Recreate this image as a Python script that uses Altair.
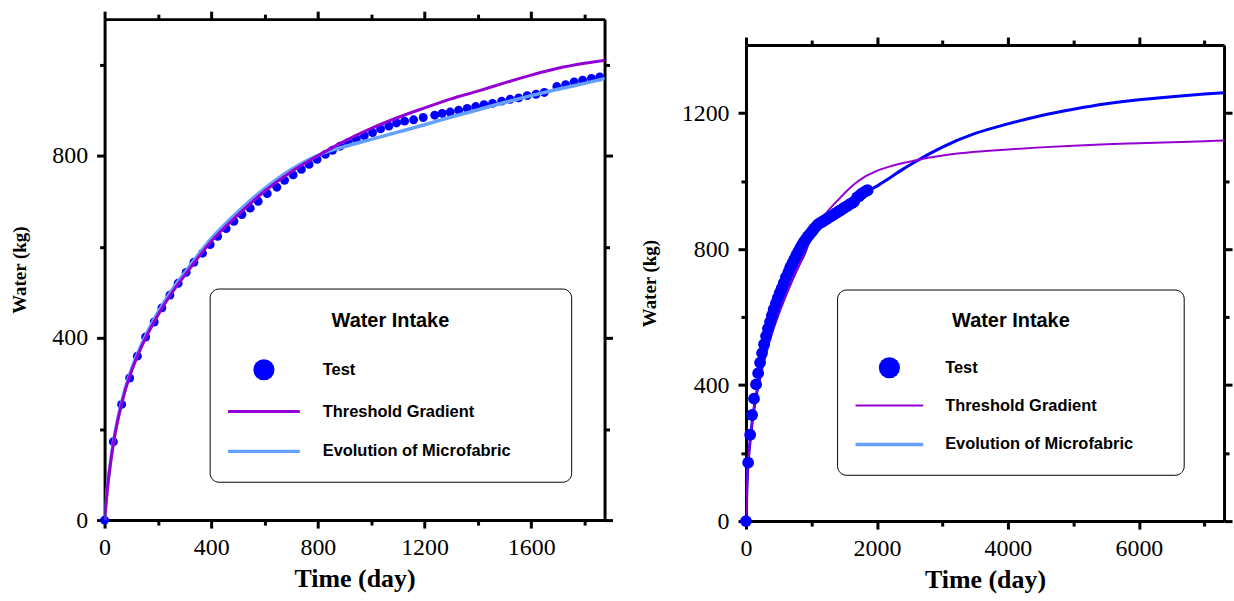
import altair as alt
import pandas as pd

# ---------------- data ----------------
test_day = [0, 33, 64, 94, 123, 154, 186, 215, 245, 276, 306, 335, 367, 396, 424, 456,
            485, 515, 546, 576, 610, 646, 675, 707, 738, 767, 797, 828, 855, 883, 914,
            944, 974, 1005, 1035, 1066, 1095, 1125, 1159, 1195, 1238, 1266, 1296, 1328,
            1360, 1392, 1423, 1455, 1489, 1521, 1553, 1585, 1618, 1649, 1696, 1729, 1761,
            1793, 1826, 1857]
test_water = [0, 172, 254, 312, 360, 402, 435, 466, 494, 520, 544, 566, 586, 605, 623, 640,
              656, 671, 685, 700, 717, 731, 746, 758, 770, 781, 792, 803, 812, 821, 829,
              837, 844, 851, 859, 865, 872, 876, 879, 884, 889, 893, 896, 900, 904, 908,
              912, 915, 920, 924, 927, 932, 935, 939, 952, 956, 962, 966, 970, 973]

# left panel model curves
tg_left_day = [0, 10, 20, 35, 50, 75, 100, 150, 200, 250, 300, 400, 500, 600, 700, 800,
               900, 1000, 1100, 1200, 1300, 1400, 1500, 1600, 1700, 1800, 1880]
tg_left_water = [0, 65, 115, 175, 220, 280, 325, 395, 450, 497, 537, 612, 670, 722, 765, 800,
                 832, 860, 884, 905, 925, 942, 960, 977, 992, 1003, 1010]
em_left_day = [0, 10, 20, 35, 50, 75, 100, 150, 200, 250, 300, 400, 500, 600, 700, 820,
               900, 1000, 1100, 1200, 1300, 1400, 1500, 1600, 1700, 1800, 1880]
em_left_water = [0, 68, 118, 178, 224, 284, 330, 400, 456, 503, 543, 618, 677, 728, 770, 806,
                 820, 836, 852, 868, 885, 901, 917, 932, 946, 959, 970]

# right panel model curves
tg_right_day = [0, 25, 50, 100, 150, 200, 300, 400, 500, 600, 700, 800, 900, 1000, 1100,
                1200, 1400, 1600, 1700, 1800, 1900, 2000, 2200, 2400, 2600, 2800, 3000,
                3500, 4000, 4500, 5000, 5500, 6000, 6500, 7000, 7300]
tg_right_water = [0, 150, 210, 300, 362, 413, 492, 558, 613, 662, 708, 750, 792, 830, 860,
                  898, 943, 982, 998, 1011, 1021, 1030, 1043, 1053, 1061, 1069, 1075,
                  1086, 1093, 1099, 1104, 1108, 1111, 1114, 1117, 1119]
em_right_day = [0, 25, 50, 100, 150, 200, 300, 400, 500, 600, 700, 800, 900, 1000, 1200,
                1400, 1600, 1800, 1870, 2000, 2200, 2400, 2600, 2800, 3000, 3500, 4000,
                4500, 5000, 5500, 6000, 6500, 7000, 7300]
em_right_water = [0, 150, 210, 300, 362, 413, 492, 558, 613, 662, 708, 750, 790, 845, 884,
                  907, 930, 960, 971, 985, 1010, 1035, 1058, 1080, 1100, 1140, 1168,
                  1192, 1211, 1227, 1239, 1248, 1256, 1260]

legend_title = "Water Intake"
legend_labels = ["Test", "Threshold Gradient", "Evolution of Microfabric"]

left_x_ticks = [0, 200, 400, 600, 800, 1000, 1200, 1400, 1600, 1800]
left_y_ticks = [0, 200, 400, 600, 800, 1000]
right_x_ticks = [0, 1000, 2000, 3000, 4000, 5000, 6000, 7000]
right_y_ticks = [0, 200, 400, 600, 800, 1000, 1200]

BLUE = "#0000ff"
PURPLE = "#9400d3"
LIGHT = "#64a0ff"

SERIF = "Liberation Serif"
SANS = "Liberation Sans"


def tsize(m):
    return {"condition": {"test": f"datum.value % {m} === 0", "value": 8}, "value": 5}


def panel(width, height, xdom, ydom, xt, yt, xm, ym, lines, pt_size, lines_on_top, lg):
    xs = alt.Scale(domain=xdom, nice=False, zero=False)
    ys = alt.Scale(domain=ydom, nice=False, zero=False)
    ax_b = alt.Axis(orient="bottom", values=xt, format="d", labelOverlap=False,
                    labelExpr=f"datum.value % {xm} === 0 ? datum.label : ''",
                    tickSize=tsize(xm), labelPadding=8, title="Time (day)",
                    titleFontSize=26, titlePadding=6, labelFlush=False)
    ax_l = alt.Axis(orient="left", values=yt, format="d", labelOverlap=False,
                    labelExpr=f"datum.value % {ym} === 0 ? datum.label : ''",
                    tickSize=tsize(ym), labelPadding=9, title="Water (kg)",
                    titleFontSize=19, titlePadding=22, labelFlush=False)
    ax_t = alt.Axis(orient="top", values=xt, labels=False, title=None, tickSize=tsize(xm))
    ax_r = alt.Axis(orient="right", values=yt, labels=False, title=None, tickSize=tsize(ym))

    tdf = pd.DataFrame({"day": test_day, "water": test_water})
    pts = alt.Chart(tdf).mark_circle(size=pt_size, color=BLUE, opacity=1).encode(
        x=alt.X("day:Q", scale=xs, axis=ax_b),
        y=alt.Y("water:Q", scale=ys, axis=ax_l),
    )
    line_layers = []
    for i, (dd, ww, col, sw) in enumerate(lines):
        df = pd.DataFrame({"day": dd, "water": ww})
        line_layers.append(
            alt.Chart(df).mark_line(color=col, strokeWidth=sw, clip=True,
                                    interpolate="monotone").encode(
                x=alt.X("day:Q", scale=xs, axis=ax_t if i == 0 else None),
                y=alt.Y("water:Q", scale=ys, axis=ax_r if i == 0 else None),
            )
        )
    one = pd.DataFrame({"k": [0]})
    box = alt.Chart(one).mark_rect(cornerRadius=9, fill="white", stroke="black",
                                   strokeWidth=1).encode(
        x=alt.value(lg["bx"][0]), x2=alt.value(lg["bx"][1]),
        y=alt.value(lg["by"][0]), y2=alt.value(lg["by"][1]))
    title = alt.Chart(pd.DataFrame({"t": [legend_title]})).mark_text(
        font=SANS, fontWeight="bold", fontSize=20, align="center", baseline="middle",
        color="black").encode(text="t:N", x=alt.value(lg["tx"]), y=alt.value(lg["ty"]))
    circ = alt.Chart(one).mark_circle(size=450, color=BLUE, opacity=1).encode(
        x=alt.value(lg["cx"]), y=alt.value(lg["rows"][0]))
    l1 = alt.Chart(one).mark_rule(color=PURPLE, strokeWidth=lg["w1"]).encode(
        x=alt.value(lg["lx"][0]), x2=alt.value(lg["lx"][1]), y=alt.value(lg["rows"][1]))
    l2 = alt.Chart(one).mark_rule(color=LIGHT, strokeWidth=3.5).encode(
        x=alt.value(lg["lx"][0]), x2=alt.value(lg["lx"][1]), y=alt.value(lg["rows"][2]))
    texts = []
    for lab, yy in zip(legend_labels, lg["rows"]):
        texts.append(alt.Chart(pd.DataFrame({"t": [lab]})).mark_text(
            font=SANS, fontWeight="bold", fontSize=16.5, align="left", baseline="middle",
            color="black").encode(text="t:N", x=alt.value(lg["txl"]), y=alt.value(yy)))
    if lines_on_top:
        data_layers = [pts] + line_layers
    else:
        data_layers = line_layers + [pts]
    layers = data_layers + [box, title, circ, l1, l2] + texts
    return alt.layer(*layers).resolve_axis(x="independent", y="independent").properties(
        width=width, height=height)


left = panel(
    502, 503, [0, 1875], [0, 1100], left_x_ticks, left_y_ticks, 400, 400,
    [(em_left_day, em_left_water, LIGHT, 3.5), (tg_left_day, tg_left_water, PURPLE, 3)],
    80, True,
    {"bx": (106, 469), "by": (271, 465), "tx": 287, "ty": 303, "cx": 160,
     "rows": (352, 394, 434), "lx": (124, 196), "txl": 219, "w1": 3},
)

right = panel(
    480, 478, [0, 7300], [0, 1400], right_x_ticks, right_y_ticks, 2000, 400,
    [(em_right_day, em_right_water, BLUE, 3), (tg_right_day, tg_right_water, PURPLE, 2)],
    140, False,
    {"bx": (92, 440), "by": (246, 432), "tx": 266, "ty": 277, "cx": 144,
     "rows": (324, 362, 401), "lx": (110, 178), "txl": 200, "w1": 2},
)

spacer = alt.Chart(pd.DataFrame({"k": [0]})).mark_text(text="").encode(
    x=alt.value(0), y=alt.value(0)).properties(width=10, height=16)

chart = alt.hconcat(left, alt.vconcat(spacer, right, spacing=0), spacing=26).properties(
    padding={"left": 11, "top": 8, "right": 0, "bottom": 0}
).configure_view(stroke=None).configure_axis(
    labelFont=SERIF, labelFontSize=24, labelColor="black",
    titleFont=SERIF, titleFontWeight="bold", titleColor="black",
    domainColor="black", domainWidth=3, tickColor="black", tickWidth=3,
    grid=False,
)

chart.save("out.html", embed_options={"renderer": "svg", "actions": False})
